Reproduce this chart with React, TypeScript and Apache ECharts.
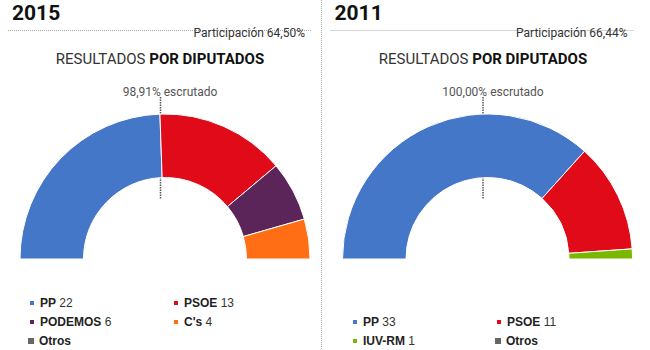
import React, { useEffect, useRef } from "react";
import * as echarts from "echarts";

const parties2015 = ["PP", "PSOE", "PODEMOS", "C's", "Otros"];
const seats2015 = [22, 13, 6, 4, 0];
const parties2011 = ["PP", "PSOE", "IUV-RM", "Otros"];
const seats2011 = [33, 11, 1, 0];
const partyColors: Record<string, string> = {
  PP: "#4477c8",
  PSOE: "#e10a19",
  PODEMOS: "#5c2559",
  "C's": "#ff6e14",
  "IUV-RM": "#7ab800",
  Otros: "#666666",
};
const years = ["2015", "2011"];
const participation = ["Participación 64,50%", "Participación 66,44%"];
const scrutinized = ["98,91% escrutado", "100,00% escrutado"];

// legend layout: [name, left, rowCenterY]
const legendSlots2015: [string, number, number][] = [
  ["PP", 28, 304],
  ["PSOE", 172, 304],
  ["PODEMOS", 28, 323],
  ["C's", 172, 323],
  ["Otros", 28, 342],
];
const legendSlots2011: [string, number, number][] = [
  ["PP", 351, 323],
  ["PSOE", 495, 323],
  ["IUV-RM", 351, 342],
  ["Otros", 495, 342],
];

export default function App() {
  const ref = useRef<HTMLDivElement>(null);
  useEffect(() => {
    if (!ref.current) return;
    const chart = echarts.init(ref.current, undefined, { renderer: "svg" });
    const panelOffset = [0, 322.5];
    const donutCx = [165, 487.5];
    const titleCx = [160, 483];

    const makePie = (names: string[], values: number[], cx: number) => ({
      type: "pie",
      center: [cx, 259],
      radius: [81.5, 145],
      startAngle: 180,
      endAngle: 0,
      clockwise: true,
      label: { show: false },
      labelLine: { show: false },
      silent: true,
      z: 2,
      data: names.map((n, i) => ({
        name: n,
        value: values[i],
        itemStyle: {
          color: partyColors[n],
          borderColor: "#fff",
          borderWidth: values[i] > 0 ? 1 : 0,
        },
      })),
    });

    const makeLegends = (
      slots: [string, number, number][],
      names: string[],
      values: number[]
    ) =>
      slots.map(([name, left, cy]) => ({
        data: [name],
        left,
        top: cy - 7,
        padding: 0,
        itemWidth: 6,
        itemHeight: 6,
        icon: "rect",
        selectedMode: false,
        formatter: (n: string) => {
          const v = values[names.indexOf(n)];
          return v > 0 ? `{n|${n}} {v|${v}}` : `{n|${n}}`;
        },
        textStyle: {
          rich: {
            n: {
              fontFamily: "Liberation Sans",
              fontWeight: "bold",
              fontSize: 12,
              color: "#222",
              lineHeight: 14,
            },
            v: {
              fontFamily: "Liberation Sans",
              fontSize: 12,
              color: "#333",
              lineHeight: 14,
            },
          },
        },
      }));

    const graphics: any[] = [];
    graphics.push({
      type: "line",
      shape: { x1: 321.5, y1: 0, x2: 321.5, y2: 350 },
      style: { stroke: "#aaa", lineWidth: 1, lineDash: [1, 1] },
      z: 0,
    });
    [0, 1].forEach((p) => {
      const ox = panelOffset[p];
      graphics.push({
        type: "text",
        left: 12 + ox,
        top: 2,
        style: {
          text: years[p],
          fontFamily: "Roboto",
          fontWeight: "bold",
          fontSize: 21,
          fill: "#111",
        },
      });
      graphics.push({
        type: "line",
        shape: { x1: 8 + ox, y1: 30.5, x2: 311 + ox, y2: 30.5 },
        style: { stroke: "#aaa", lineWidth: 1, lineDash: [1, 1] },
        z: 0,
      });
      graphics.push({
        type: "text",
        x: 305 + ox,
        y: 33,
        style: {
          text: participation[p],
          fontFamily: "Roboto",
          fontSize: 12,
          fill: "#333",
          align: "right",
          verticalAlign: "middle",
        },
        z: 5,
      });
      graphics.push({
        type: "text",
        x: titleCx[p],
        y: 59,
        style: {
          text: "{r|RESULTADOS }{b|POR DIPUTADOS}",
          align: "center",
          verticalAlign: "middle",
          rich: {
            r: { fontFamily: "Roboto", fontSize: 15, fill: "#333", color: "#333" },
            b: {
              fontFamily: "Roboto",
              fontSize: 15,
              fontWeight: "bold",
              fill: "#111",
              color: "#111",
            },
          },
        },
      });
      graphics.push({
        type: "text",
        x: titleCx[p] + 10,
        y: 92,
        style: {
          text: scrutinized[p],
          fontFamily: "Roboto",
          fontSize: 12,
          fill: "#555",
          align: "center",
          verticalAlign: "middle",
        },
      });
      graphics.push({
        type: "line",
        shape: {
          x1: donutCx[p] - 4.5,
          y1: 97,
          x2: donutCx[p] - 4.5,
          y2: 199,
        },
        style: { stroke: "#555", lineWidth: 1.5, lineDash: [1.5, 1] },
        z: 0,
      });
    });

    chart.setOption({
      animation: false,
      graphic: graphics,
      legend: [
        ...makeLegends(legendSlots2015, parties2015, seats2015),
        ...makeLegends(legendSlots2011, parties2011, seats2011),
      ],
      series: [
        makePie(parties2015, seats2015, donutCx[0]),
        makePie(parties2011, seats2011, donutCx[1]),
      ],
    });
    return () => chart.dispose();
  }, []);
  return (
    <div
      ref={ref}
      style={{
        position: "fixed",
        left: 0,
        top: 0,
        width: 650,
        height: 350,
        background: "#fff",
      }}
    />
  );
}
